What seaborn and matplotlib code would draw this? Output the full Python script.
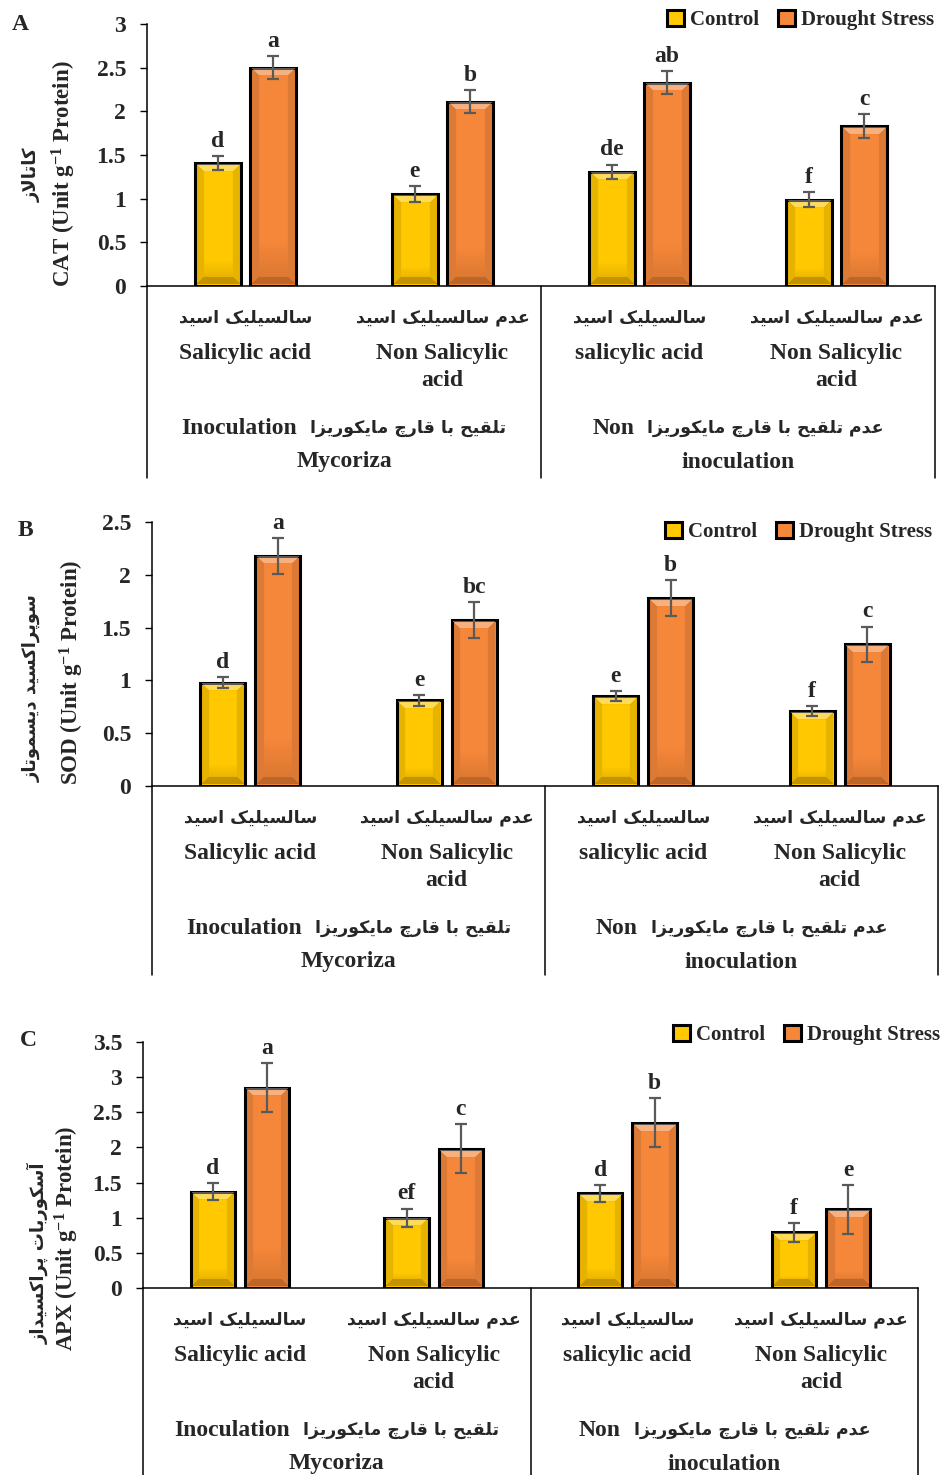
import numpy as np
import pandas as pd
import matplotlib
matplotlib.use("Agg")
import matplotlib.pyplot as plt
import matplotlib.transforms as mtransforms
import seaborn as sns

# ---------------- data ----------------
cat_keys = ["M_SA", "M_NSA", "NM_SA", "NM_NSA"]
cat_fa = ["سالسیلیک اسید", "عدم سالسیلیک اسید", "سالسیلیک اسید", "عدم سالسیلیک اسید"]
cat_en = ["Salicylic acid", "Non Salicylic\nacid", "salicylic acid", "Non Salicylic\nacid"]
group_en1 = ["Inoculation", "Non"]
group_fa = ["تلقیح با قارچ مایکوریزا", "عدم تلقیح با قارچ مایکوریزا"]
group_en2 = ["Mycoriza", "inoculation"]
treatments = ["Control", "Drought Stress"]

cat_control = [1.41, 1.05, 1.31, 0.99]
cat_drought = [2.50, 2.11, 2.33, 1.83]
cat_err_control = [0.08, 0.09, 0.08, 0.09]
cat_err_drought = [0.13, 0.13, 0.13, 0.14]
cat_let_control = ["d", "e", "de", "f"]
cat_let_drought = ["a", "b", "ab", "c"]

sod_control = [0.98, 0.81, 0.85, 0.71]
sod_drought = [2.18, 1.57, 1.78, 1.34]
sod_err_control = [0.05, 0.05, 0.045, 0.05]
sod_err_drought = [0.17, 0.17, 0.17, 0.17]
sod_let_control = ["d", "e", "e", "f"]
sod_let_drought = ["a", "bc", "b", "c"]

apx_control = [1.37, 1.00, 1.35, 0.79]
apx_drought = [2.85, 1.98, 2.35, 1.12]
apx_err_control = [0.12, 0.13, 0.12, 0.13]
apx_err_drought = [0.35, 0.35, 0.35, 0.35]
apx_let_control = ["d", "ef", "d", "f"]
apx_let_drought = ["a", "c", "b", "e"]

cat_yticks = [0, 0.5, 1, 1.5, 2, 2.5, 3]
sod_yticks = [0, 0.5, 1, 1.5, 2, 2.5]
apx_yticks = [0, 0.5, 1, 1.5, 2, 2.5, 3, 3.5]

ylabel_fa = ["کاتالاز", "سوپراکسید دیسموتاز", "آسکوربات پراکسیداز"]
ylabel_en = [r"CAT (Unit g$^{\mathbf{-1}}$ Protein)",
             r"SOD (Unit g$^{\mathbf{-1}}$ Protein)",
             r"APX (Unit g$^{\mathbf{-1}}$ Protein)"]
panel_letters = ["A", "B", "C"]

# ---------------- minimal Persian shaping (visual order) ----------------
FORMS = {
    'ا': ('\uFE8D', '\uFE8E', None, None),
    'آ': ('\uFE81', '\uFE82', None, None),
    'ب': ('\uFE8F', '\uFE90', '\uFE91', '\uFE92'),
    'پ': ('\uFB56', '\uFB57', '\uFB58', '\uFB59'),
    'ت': ('\uFE95', '\uFE96', '\uFE97', '\uFE98'),
    'چ': ('\uFB7A', '\uFB7B', '\uFB7C', '\uFB7D'),
    'ح': ('\uFEA1', '\uFEA2', '\uFEA3', '\uFEA4'),
    'د': ('\uFEA9', '\uFEAA', None, None),
    'ر': ('\uFEAD', '\uFEAE', None, None),
    'ز': ('\uFEAF', '\uFEB0', None, None),
    'س': ('\uFEB1', '\uFEB2', '\uFEB3', '\uFEB4'),
    'ع': ('\uFEC9', '\uFECA', '\uFECB', '\uFECC'),
    'ق': ('\uFED5', '\uFED6', '\uFED7', '\uFED8'),
    'ک': ('\uFB8E', '\uFB8F', '\uFB90', '\uFB91'),
    'ك': ('\uFED9', '\uFEDA', '\uFEDB', '\uFEDC'),
    'ل': ('\uFEDD', '\uFEDE', '\uFEDF', '\uFEE0'),
    'م': ('\uFEE1', '\uFEE2', '\uFEE3', '\uFEE4'),
    'و': ('\uFEED', '\uFEEE', None, None),
    'ی': ('\uFBFC', '\uFBFD', '\uFBFE', '\uFBFF'),
    'ي': ('\uFEF1', '\uFEF2', '\uFEF3', '\uFEF4'),
}
DUAL = set("بپتچحسعقکكلمیي")
LAMALEF = {'ا': ('\uFEFB', '\uFEFC'), 'آ': ('\uFEF5', '\uFEF6')}


def fa(s):
    out = []
    i, n = 0, len(s)
    while i < n:
        c = s[i]
        if c not in FORMS:
            out.append(c)
            i += 1
            continue
        pc = i > 0 and s[i - 1] in DUAL
        if c == 'ل' and i + 1 < n and s[i + 1] in LAMALEF:
            lig = LAMALEF[s[i + 1]]
            out.append(lig[1] if pc else lig[0])
            i += 2
            continue
        nc = c in DUAL and i + 1 < n and s[i + 1] in FORMS
        iso, fin, ini, med = FORMS[c]
        if pc and nc:
            g = med
        elif pc:
            g = fin
        elif nc:
            g = ini
        else:
            g = iso
        out.append(g)
        i += 1
    return ''.join(reversed(out))


# ---------------- style ----------------
sns.set_theme(style="white")
plt.rcParams['font.family'] = ['Liberation Serif', 'DejaVu Sans']
plt.rcParams['font.weight'] = 'bold'
plt.rcParams['mathtext.fontset'] = 'custom'
plt.rcParams['mathtext.rm'] = 'Liberation Serif:bold'
plt.rcParams['mathtext.bf'] = 'Liberation Serif:bold'
plt.rcParams['mathtext.it'] = 'Liberation Serif:bold'
plt.rcParams['mathtext.default'] = 'bf'

W, H = 942, 1475
fig = plt.figure(figsize=(W / 100, H / 100), dpi=100)

COL_C = "#FFC800"
COL_D = "#F5873A"
FA_FONT = dict(family='DejaVu Sans', weight='bold')

panels = [
    dict(ctrl=cat_control, drt=cat_drought, ec=cat_err_control, ed=cat_err_drought,
         lc=cat_let_control, ld=cat_let_drought, yt=cat_yticks,
         box=(147, 935, 24, 286), depth=192, leg=(934, 20),
         yl_fa=(32, 175), yl_en=(64, 174), letter=(20, 24)),
    dict(ctrl=sod_control, drt=sod_drought, ec=sod_err_control, ed=sod_err_drought,
         lc=sod_let_control, ld=sod_let_drought, yt=sod_yticks,
         box=(152, 938, 522, 786), depth=189, leg=(932, 532),
         yl_fa=(32, 688), yl_en=(72, 672), letter=(25, 530)),
    dict(ctrl=apx_control, drt=apx_drought, ec=apx_err_control, ed=apx_err_drought,
         lc=apx_let_control, ld=apx_let_drought, yt=apx_yticks,
         box=(143, 918, 1042, 1288), depth=190, leg=(940, 1035),
         yl_fa=(38, 1253), yl_en=(67, 1238), letter=(28, 1040)),
]

PT = 0.72  # px -> pt at 100 dpi
GAP_PX = 13
group_pairs = []


def add_bevel(ax, bar):
    """Soft bevel shading drawn inside a bar (decoration only)."""
    x0, w, h = bar.get_x(), bar.get_width(), bar.get_height()
    p0 = ax.transData.transform((x0, 0))
    p1 = ax.transData.transform((x0 + w, h))
    wpx, hpx = abs(p1[0] - p0[0]), abs(p1[1] - p0[1])
    inset = 1.6
    nx, ny = max(int(wpx - 2 * inset), 2), max(int(hpx - 2 * inset), 2)
    xx, yy = np.meshgrid(np.arange(nx) + 0.5, np.arange(ny) + 0.5)
    dl, dr, dt, db = xx, nx - xx, yy, ny - yy
    t = 7.0
    rgba = np.zeros((ny, nx, 4))
    dmin = np.minimum.reduce([dl, dr, dt, db])
    top = (dt == dmin) & (dt < t)
    bot = (db == dmin) & (db < t)
    side = ((dl == dmin) | (dr == dmin)) & (dmin < t) & ~top & ~bot
    rgba[top] = [1, 1, 1, 0.35]
    rgba[side] = [0, 0, 0, 0.10]
    rgba[bot] = [0.25, 0.1, 0, 0.30]
    grad = np.clip((yy / ny - 0.8) / 0.2, 0, 1) * 0.18
    m = ~(top | bot | side)
    rgba[m, 0:3] = [0.3, 0.15, 0]
    rgba[m, 3] = grad[m]
    inv = ax.transData.inverted()
    a = inv.transform((min(p0[0], p1[0]) + inset, min(p0[1], p1[1]) + inset))
    b = inv.transform((max(p0[0], p1[0]) - inset, max(p0[1], p1[1]) - inset))
    ax.imshow(rgba, extent=(a[0], b[0], a[1], b[1]), origin='upper', aspect='auto',
              interpolation='bilinear', zorder=bar.get_zorder() + 0.1)


for k, p in enumerate(panels):
    x0, x1, ytop, ybot = p['box']
    ax = fig.add_axes([x0 / W, 1 - ybot / H, (x1 - x0) / W, (ybot - ytop) / H])
    df = pd.DataFrame({
        'cat': cat_keys * 2,
        'treat': [treatments[0]] * 4 + [treatments[1]] * 4,
        'value': list(p['ctrl']) + list(p['drt']),
    })
    sns.barplot(data=df, x='cat', y='value', hue='treat', order=cat_keys,
                hue_order=treatments, palette=[COL_C, COL_D], width=0.56, gap=0.18,
                edgecolor='black', linewidth=2.2, errorbar=None, ax=ax, saturation=1)
    ax.set_xlim(-0.5, 3.5)
    ax.set_ylim(0, p['yt'][-1])
    errs = [p['ec'], p['ed']]
    lets = [p['lc'], p['ld']]
    for cont, err, let in zip(ax.containers, errs, lets):
        xs = [b.get_x() + b.get_width() / 2 for b in cont]
        hs = [b.get_height() for b in cont]
        for b in cont:
            add_bevel(ax, b)
        ax.errorbar(xs, hs, yerr=err, fmt='none', ecolor='#5a5a5a', elinewidth=1.6,
                    capsize=4.5, capthick=1.6, zorder=5)
        for xx, hh, ee, tt in zip(xs, hs, err, let):
            ax.annotate(tt, xy=(xx, hh + ee), xytext=(0, 3), textcoords='offset points',
                        ha='center', va='bottom', fontsize=17, fontweight='bold')
    ax.set_xlim(-0.5, 3.5)
    ax.set_ylim(0, p['yt'][-1])
    ax.set_yticks(p['yt'])
    ax.set_yticklabels([f"{v:g}" for v in p['yt']], fontsize=17, fontweight='bold')
    ax.set_xticks([])
    ax.set_xlabel('')
    ax.set_ylabel('')
    ax.tick_params(axis='y', direction='out', length=5, width=1, color='black', pad=10,
                   left=True)
    for s in ['top', 'right']:
        ax.spines[s].set_visible(False)
    for s in ['left', 'bottom']:
        ax.spines[s].set_color('black')
        ax.spines[s].set_linewidth(1.1)
    ax.set_facecolor('none')

    # legend
    handles, labels = ax.get_legend_handles_labels()
    ax.legend(handles, labels, ncol=2, frameon=False, loc='center right',
              bbox_to_anchor=(p['leg'][0] / W, 1 - p['leg'][1] / H),
              bbox_transform=fig.transFigure, borderaxespad=0, borderpad=0,
              handlelength=0.8, handleheight=0.8, handletextpad=0.3, columnspacing=0.9,
              prop=dict(family='Liberation Serif', weight='bold', size=15))

    # separators below the axis
    trans = mtransforms.blended_transform_factory(ax.transData, ax.transAxes)
    ah = ybot - ytop
    for xv in [-0.5, 1.5, 3.5]:
        ax.plot([xv, xv], [0, -p['depth'] / ah], transform=trans, color='black',
                lw=1.1, clip_on=False)

    # category labels
    for i in range(4):
        ax.annotate(fa(cat_fa[i]), xy=(i, 0), xycoords=trans, xytext=(0, -32 * PT),
                    textcoords='offset points', ha='center', va='center',
                    fontsize=12.5, **FA_FONT)
        for j, line in enumerate(cat_en[i].split('\n')):
            ax.annotate(line, xy=(i, 0), xycoords=trans,
                        xytext=(0, -(67 + 27 * j) * PT), textcoords='offset points',
                        ha='center', va='center', fontsize=17, fontweight='bold')
    # group labels
    for g in range(2):
        xc = 0.5 + 2 * g
        t_en = ax.annotate(group_en1[g], xy=(xc, 0), xycoords=trans,
                           xytext=(0, -142 * PT), textcoords='offset points', ha='right',
                           va='center', fontsize=17, fontweight='bold')
        t_fa = ax.annotate(fa(group_fa[g]), xy=(xc, 0), xycoords=trans,
                           xytext=(0, -142 * PT), textcoords='offset points', ha='left',
                           va='center', fontsize=12.5, **FA_FONT)
        group_pairs.append((t_en, t_fa))
        ax.annotate(group_en2[g], xy=(xc, 0), xycoords=trans,
                    xytext=(0, -176 * PT), textcoords='offset points', ha='center',
                    va='center', fontsize=17, fontweight='bold')

    # y labels
    fig.text(p['yl_fa'][0] / W, 1 - p['yl_fa'][1] / H, fa(ylabel_fa[k]), rotation=90,
             ha='center', va='center', fontsize=13, **FA_FONT)
    fig.text(p['yl_en'][0] / W, 1 - p['yl_en'][1] / H, ylabel_en[k], rotation=90,
             ha='center', va='center', fontsize=16.5, fontweight='bold')
    fig.text(p['letter'][0] / W, 1 - p['letter'][1] / H, panel_letters[k],
             ha='center', va='center', fontsize=17, fontweight='bold')

# center each "English + Persian" group label pair as one line
fig.canvas.draw()
r = fig.canvas.get_renderer()
for t_en, t_fa in group_pairs:
    w_en = t_en.get_window_extent(r).width
    w_fa = t_fa.get_window_extent(r).width
    total = w_en + GAP_PX + w_fa
    split = -total / 2 + w_en
    y = t_en.xyann[1]
    t_en.xyann = (split * PT, y)
    t_fa.xyann = ((split + GAP_PX) * PT, y)

fig.savefig("out.png", dpi=100)
